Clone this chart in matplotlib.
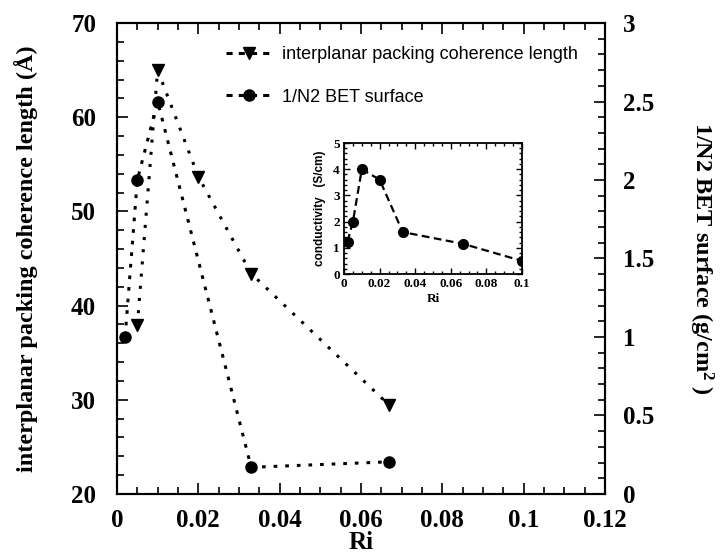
import matplotlib
matplotlib.use("Agg")
import matplotlib.pyplot as plt
from matplotlib.ticker import MultipleLocator, FuncFormatter
from matplotlib.lines import Line2D

# main panel data
ri_coh = [0.005, 0.010, 0.020, 0.033, 0.067]
coherence = [37.9, 65.0, 53.7, 43.4, 29.4]

ri_bet = [0.002, 0.005, 0.010, 0.033, 0.067]
bet_inv = [1.0, 2.0, 2.5, 0.17, 0.205]

# inset data
ri_cond = [0.002, 0.005, 0.010, 0.020, 0.033, 0.067, 0.100]
conductivity = [1.24, 2.0, 4.0, 3.6, 1.6, 1.15, 0.5]

SERIF = "Liberation Serif"
SANS = "Liberation Sans"

plt.rcParams["font.family"] = SERIF
plt.rcParams["font.weight"] = "bold"
plt.rcParams["mathtext.fontset"] = "custom"
plt.rcParams["mathtext.rm"] = "Liberation Serif:bold"
plt.rcParams["mathtext.bf"] = "Liberation Serif:bold"
plt.rcParams["mathtext.default"] = "bf"

fmt = FuncFormatter(lambda v, p: "%g" % round(v, 6))

fig = plt.figure(figsize=(7.27, 5.53), dpi=100)
ax = fig.add_axes([0.1609, 0.1067, 0.6713, 0.8517])
ax2 = ax.twinx()

coh_style = (0, (1.0, 3.0))
bet_style = (0, (1.2, 2.6))

ax.plot(ri_coh, coherence, color="black", linestyle=coh_style, linewidth=2.2,
        marker="v", markersize=8.5)
ax2.plot(ri_bet, bet_inv, color="black", linestyle=bet_style, linewidth=2.2,
         marker="o", markersize=8)

ax.set_xlim(0, 0.12)
ax.set_ylim(20, 70)
ax2.set_ylim(0, 3)

ax.xaxis.set_major_locator(MultipleLocator(0.02))
ax.xaxis.set_minor_locator(MultipleLocator(0.005))
ax.yaxis.set_major_locator(MultipleLocator(10))
ax.yaxis.set_minor_locator(MultipleLocator(2))
ax2.yaxis.set_major_locator(MultipleLocator(0.5))
ax2.yaxis.set_minor_locator(MultipleLocator(0.1))
ax.xaxis.set_major_formatter(fmt)
ax2.yaxis.set_major_formatter(fmt)

ax.tick_params(which="both", direction="in", top=True, right=False, width=1.2,
               labelsize=18)
ax.tick_params(axis="x", which="major", pad=11)
ax.tick_params(axis="y", which="major", pad=15)
ax.tick_params(which="major", length=8)
ax.tick_params(which="minor", length=5)
ax2.tick_params(which="both", direction="in", width=1.2, labelsize=18, pad=13)
ax2.tick_params(which="major", length=8)
ax2.tick_params(which="minor", length=5)
for a in (ax, ax2):
    for s in a.spines.values():
        s.set_linewidth(1.5)
    for lab in a.get_xticklabels() + a.get_yticklabels():
        lab.set_fontweight("bold")

ax.set_xlabel("Ri", fontsize=18, fontweight="bold", labelpad=-1)
ax.set_ylabel("interplanar packing coherence length (\u00c5)", fontsize=17.5,
              fontweight="bold", labelpad=24)
ax2.set_ylabel("1/N2 BET surface (g/cm$^{2}$ )", fontsize=17.5,
               fontweight="bold", rotation=270, labelpad=44)

handles = [
    Line2D([], [], color="black", linestyle=(0, (2, 2)), linewidth=2.2,
           marker="v", markersize=8.5),
    Line2D([], [], color="black", linestyle=(0, (2, 2)), linewidth=2.2,
           marker="o", markersize=8),
]
ax.legend(handles, ["interplanar packing coherence length", "1/N2 BET surface"],
          loc="upper left", bbox_to_anchor=(0.19, 0.985), frameon=False,
          handlelength=2.6, handletextpad=0.5, labelspacing=1.4,
          prop={"family": SANS, "size": 13, "weight": "normal"})

# inset
axi = fig.add_axes([0.4732, 0.5045, 0.2448, 0.2369])
axi.plot(ri_cond, conductivity, color="black", linestyle=(0, (3.5, 2)),
         linewidth=1.6, marker="o", markersize=7)
axi.set_xlim(0, 0.1)
axi.set_ylim(0, 5)
axi.xaxis.set_major_locator(MultipleLocator(0.02))
axi.xaxis.set_minor_locator(MultipleLocator(0.005))
axi.yaxis.set_major_locator(MultipleLocator(1))
axi.yaxis.set_minor_locator(MultipleLocator(0.2))
axi.xaxis.set_major_formatter(fmt)
axi.tick_params(which="both", direction="in", top=True, right=True, width=1.0,
                labelsize=9.5, pad=3)
axi.tick_params(which="major", length=4)
axi.tick_params(which="minor", length=2)
for s in axi.spines.values():
    s.set_linewidth(1.3)
for lab in axi.get_xticklabels() + axi.get_yticklabels():
    lab.set_fontweight("bold")
axi.set_xlabel("Ri", fontsize=9.5, fontweight="bold", labelpad=2)
axi.set_ylabel("conductivity   (S/cm)", fontsize=8.5, family=SANS,
               fontweight="bold", labelpad=5)

fig.savefig("out.png", dpi=100)
